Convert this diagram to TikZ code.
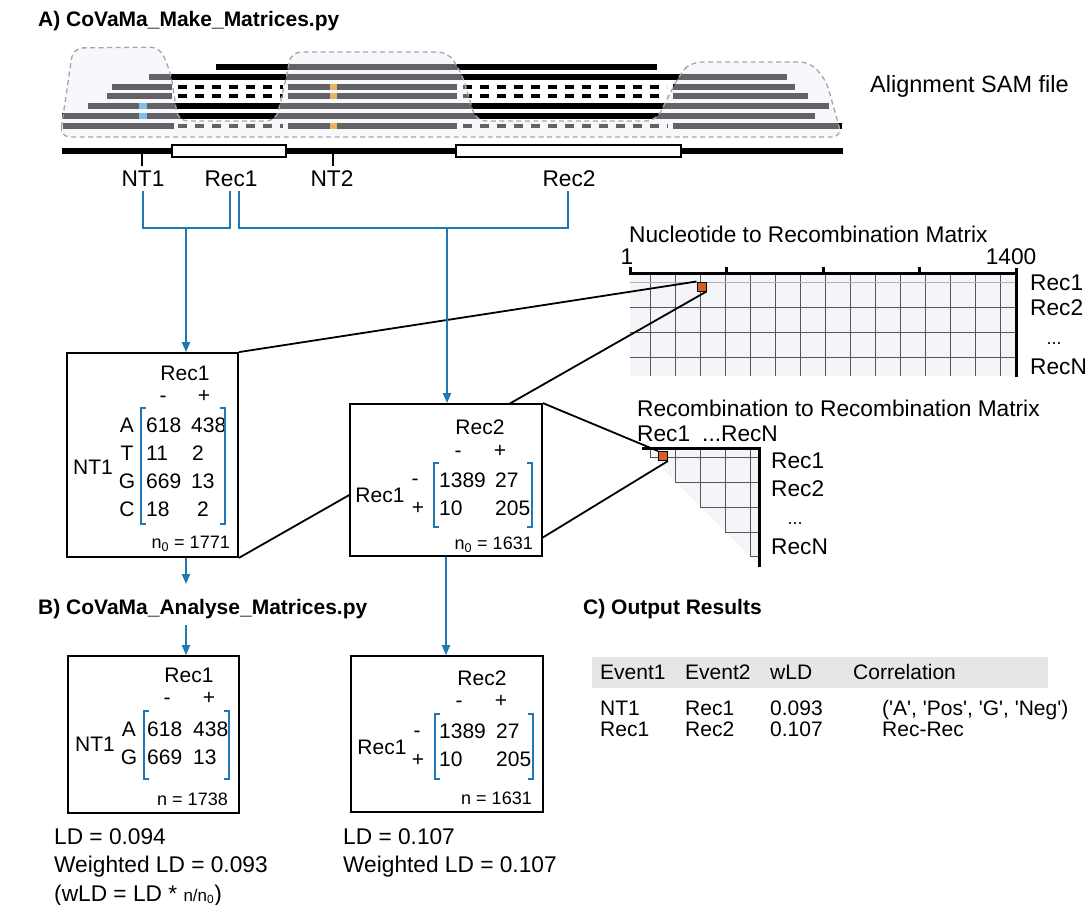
\documentclass[tikz,border=0pt]{standalone}
\usepackage{fontspec}
\setmainfont{Liberation Sans}
\usetikzlibrary{arrows.meta,calc}
\definecolor{cblue}{RGB}{31,119,180}
\definecolor{corange}{RGB}{214,96,34}
\definecolor{ovl}{RGB}{236,238,246}
\definecolor{gridfill}{RGB}{244,245,249}
\definecolor{mblue}{RGB}{130,190,232}
\definecolor{morange}{RGB}{234,180,92}
\definecolor{hdr}{RGB}{230,230,230}
\definecolor{gridc}{RGB}{85,85,85}
\begin{document}
\begin{tikzpicture}[x=1pt,y=-1pt,
  t22/.style={font=\fontsize{22.7}{26}\selectfont, inner sep=0pt},
  t21/.style={font=\fontsize{21}{25}\selectfont, inner sep=0pt},
  t20/.style={font=\fontsize{21}{25}\selectfont, inner sep=0pt, anchor=base west},
  t18/.style={font=\fontsize{18}{22}\selectfont, inner sep=0pt},
  ttl/.style={font=\fontsize{21}{25}\selectfont\bfseries, inner sep=0pt, anchor=base west},
  mbox/.style={draw, line width=1.8pt, fill=white, inner sep=0pt},
  blueline/.style={cblue, line width=2pt},
  barr/.style={cblue, line width=2pt, -{Triangle[length=10pt,width=8pt]}},
  zline/.style={line width=1.8pt},
  brk/.style={cblue, line width=2.5pt},
  readbar/.style={line width=6pt},
  readdash/.style={line width=4pt, dash pattern=on 9pt off 8pt},
  gline/.style={gridc, line width=0.9pt},
  sqr/.style={draw, fill=corange, line width=1pt, minimum size=9pt, inner sep=0pt},
  recbox/.style={draw, line width=2.5pt, fill=white, minimum height=12pt, inner sep=0pt}
]
\useasboundingbox (0,0) rectangle (1085,905);

% ---------- Titles ----------
\node[ttl] (tA) at (38,26) {A) CoVaMa\_Make\_Matrices.py};
\node[ttl] (tB) at (38,614) {B) CoVaMa\_Analyse\_Matrices.py};
\node[ttl] (tC) at (583,614) {C) Output Results};

% ---------- Reads ----------
\foreach \yy/\a/\b in {67/216/657, 76.8/149/787, 106.2/88/829, 116/62/815}
  \draw[readbar] (\a,\yy) -- (\b,\yy);
\foreach \yy/\a/\b in {86.6/112/795, 96.4/107/808}{
  \draw[readbar] (\a,\yy) -- (172,\yy);
  \draw[readdash] (178,\yy) -- (283,\yy);
  \draw[readbar] (288,\yy) -- (457,\yy);
  \draw[readdash] (463,\yy) -- (667,\yy);
  \draw[readbar] (673,\yy) -- (\b,\yy);
}
\draw[readbar] (63,125.8) -- (174,125.8);
\draw[readdash] (178,125.8) -- (283,125.8);
\draw[readbar] (288,125.8) -- (457,125.8);
\draw[readdash] (463,125.8) -- (668,125.8);
\draw[readbar] (673,125.8) -- (842,125.8);

% ---------- Overlay ----------
\path[fill=ovl, fill opacity=0.42, rounded corners=10pt]
  (60,137) -- (73,48) -- (160,47) -- (171,74) -- (178,121) -- (276,121) -- (287,74)
  -- (291,52) -- (448,52) -- (462,74) -- (476,121) -- (656,121) -- (680,74)
  -- (691,62) -- (810,62) -- (826,80) -- (842,137) -- cycle;
\draw[gray!70, line width=1.3pt, dash pattern=on 5pt off 3.5pt, rounded corners=10pt]
  (60,137) -- (73,48) -- (160,47) -- (171,74) -- (178,121) -- (276,121) -- (287,74)
  -- (291,52) -- (448,52) -- (462,74) -- (476,121) -- (656,121) -- (680,74)
  -- (691,62) -- (810,62) -- (826,80) -- (842,137) -- cycle;

% marks
\fill[mblue] (139,103.2) rectangle (147,109.2);
\fill[mblue] (139,113) rectangle (147,119);
\fill[morange] (330,83.6) rectangle (337,89.6);
\fill[morange] (330,93.4) rectangle (337,99.4);
\fill[morange] (330,122.8) rectangle (337,128.8);

\node[t22, anchor=base west, font=\fontsize{23.5}{27}\selectfont] (sam) at (870,92) {Alignment SAM file};

% ---------- Genome axis ----------
\draw[line width=6pt] (62,151) -- (843,151);
\node[recbox, minimum width=114pt] (r1box) at (229,151) {};
\node[recbox, minimum width=225pt] (r2box) at (568.5,151) {};
\coordinate (tk1) at (142,151);
\coordinate (tk2) at (333,151);
\draw[line width=2pt] (tk1) -- ++(0,15);
\draw[line width=2pt] (tk2) -- ++(0,15);

\node[t22, anchor=base] (lNT1) at (143,186) {NT1};
\node[t22, anchor=base] (lRec1) at (231,186) {Rec1};
\node[t22, anchor=base] (lNT2) at (332,186) {NT2};
\node[t22, anchor=base] (lRec2) at (569,186) {Rec2};

% ---------- Nucleotide to Recombination matrix ----------
\node[t22, anchor=base west] (nrt) at (629,242) {Nucleotide to Recombination Matrix};
\node[t22, anchor=base] (nr1) at (627,264) {1};
\node[t22, anchor=base] (nr1400) at (1011,264) {1400};
\fill[gridfill] (630,273) rectangle (1016,376);
\foreach \x in {650,675,...,1000} \draw[gline] (\x,273) -- (\x,376);
\draw[gray!60, line width=0.9pt] (630,282) -- (1016,282);
\foreach \yy in {307,332,357} \draw[gline] (630,\yy) -- (1016,\yy);
\draw[line width=3pt] (630,267) -- (630,273) -- (1016,273);
\foreach \x in {726,823,919} \draw[line width=3pt] (\x,267) -- (\x,273);
\draw[line width=3pt] (1016,268) -- (1016,377);
\node[t22, anchor=base west] (nrr1) at (1030,290) {Rec1};
\node[t22, anchor=base west] (nrr2) at (1030,315) {Rec2};
\node[t18, anchor=base] (nrr3) at (1054,344) {...};
\node[t22, anchor=base west] (nrr4) at (1030,374) {RecN};
\node[sqr] (nrsq) at (701.5,286.5) {};

% ---------- Recombination to Recombination matrix ----------
\node[t22, anchor=base west] (rrt) at (637,416) {Recombination to Recombination Matrix};
\node[t22, anchor=base west] (rrc1) at (637,441) {Rec1};
\node[t22, anchor=base west] (rrc2) at (702,441) {...RecN};
\fill[gridfill] (642,448) -- (759,448) -- (759,565) -- cycle;
\foreach \x/\yy in {650/457,675/482,700/507,725/532,750/556}
  \draw[gline] (\x,448) -- (\x,\yy) -- (759,\yy);
\draw[line width=3pt] (642,448) -- (759,448) -- (759,567);
\node[t22, anchor=base west] (rrr1) at (771,468) {Rec1};
\node[t22, anchor=base west] (rrr2) at (771,496) {Rec2};
\node[t18, anchor=base] (rrr3) at (795,524) {...};
\node[t22, anchor=base west] (rrr4) at (771,554) {RecN};
\node[sqr] (rrsq) at (663,456) {};

% ---------- Box 1 ----------
\node[mbox, minimum width=171pt, minimum height=204pt] (box1) at (152.5,455) {};
\node[t21, anchor=base] (b1h) at (185,380) {Rec1};
\node[t21, anchor=base] (b1m) at (163,402.5) {-};
\node[t21, anchor=base] (b1p) at (204,402.5) {+};
\foreach \l/\a/\b/\yy/\xb [count=\i] in {A/618/438/432.5/191, T/11/2/460.5/192, G/669/13/488.5/191, C/18/2/516.5/197}{
  \node[t21, anchor=base] (b1l\i) at (127,\yy) {\l};
  \node[t21, anchor=base west] (b1a\i) at (146,\yy) {\a};
  \node[t21, anchor=base west] (b1b\i) at (\xb,\yy) {\b};
}
\node[t21, anchor=base] (b1nt) at (93,474.5) {NT1};
\draw[brk] (146,408) -- (141,408) -- (141,524) -- (146,524);
\draw[brk] (220,408) -- (225,408) -- (225,524) -- (220,524);
\node[t18, anchor=base east] (b1n) at (230,548.5) {n\textsubscript{0} = 1771};

% zoom lines from box 1
\draw[zline] (box1.north east) -- (nrsq.north west);
\draw[zline] (box1.south east) -- (nrsq.south east);

% ---------- Box 2 ----------
\node[mbox, minimum width=192pt, minimum height=152pt] (box2) at (446,480) {};
\node[t21, anchor=base] (b2h) at (480,434.5) {Rec2};
\node[t21, anchor=base] (b2m) at (458,457.5) {-};
\node[t21, anchor=base] (b2p) at (500,457.5) {+};
\node[t21, anchor=base west] (b2a1) at (439,487.5) {1389};
\node[t21, anchor=base west] (b2b1) at (495,487.5) {27};
\node[t21, anchor=base west] (b2a2) at (439,515.5) {10};
\node[t21, anchor=base west] (b2b2) at (495,515.5) {205};
\node[t21, anchor=base] (b2r) at (380,502.5) {Rec1};
\node[t21, anchor=base] (b2rm) at (415,485.7) {-};
\node[t21, anchor=base] (b2rp) at (418,514.4) {+};
\draw[brk] (439,463) -- (434,463) -- (434,527) -- (439,527);
\draw[brk] (527,463) -- (532,463) -- (532,527) -- (527,527);
\node[t18, anchor=base east] (b2n) at (533,549.5) {n\textsubscript{0} = 1631};

\coordinate (b2e) at (542,538);
\draw[zline] (box2.north east) -- (rrsq.north west);
\draw[zline] (b2e) -- (rrsq.south east);

% ---------- Blue connectors ----------
\coordinate (c1a) at (143,191);
\coordinate (c1b) at (230,191);
\coordinate (j1) at (186,228);
\coordinate (c2a) at (239,191);
\coordinate (c2b) at (568,191);
\coordinate (j2) at (447,228);
\draw[blueline] (c1a) |- (j1) -| (c1b);
\draw[blueline] (c2a) |- (j2) -| (c2b);
\draw[barr] (j1) -- (j1 |- box1.north);
\draw[barr] (j2) -- (j2 |- box2.north);

% ---------- Box 3 ----------
\node[mbox, minimum width=171pt, minimum height=157pt] (box3) at (153.5,734.5) {};
\node[t21, anchor=base] (b3h) at (189,682.5) {Rec1};
\node[t21, anchor=base] (b3m) at (167,704.5) {-};
\node[t21, anchor=base] (b3p) at (209,704.5) {+};
\node[t21, anchor=base] (b3l1) at (129,736.5) {A};
\node[t21, anchor=base west] (b3a1) at (147,736.5) {618};
\node[t21, anchor=base west] (b3b1) at (193,736.5) {438};
\node[t21, anchor=base] (b3l2) at (129,764.5) {G};
\node[t21, anchor=base west] (b3a2) at (147,764.5) {669};
\node[t21, anchor=base west] (b3b2) at (193,764.5) {13};
\node[t21, anchor=base] (b3nt) at (95,751.5) {NT1};
\draw[brk] (149,711) -- (144,711) -- (144,779) -- (149,779);
\draw[brk] (224,711) -- (229,711) -- (229,779) -- (224,779);
\node[t18, anchor=base east] (b3n) at (228,805.4) {n = 1738};

% ---------- Box 4 ----------
\node[mbox, minimum width=192pt, minimum height=156pt] (box4) at (447,734) {};
\node[t21, anchor=base] (b4h) at (482,685.5) {Rec2};
\node[t21, anchor=base] (b4m) at (459,707.5) {-};
\node[t21, anchor=base] (b4p) at (501,707.5) {+};
\node[t21, anchor=base west] (b4a1) at (439,738.5) {1389};
\node[t21, anchor=base west] (b4b1) at (496,738.5) {27};
\node[t21, anchor=base west] (b4a2) at (439,766.5) {10};
\node[t21, anchor=base west] (b4b2) at (496,766.5) {205};
\node[t21, anchor=base] (b4r) at (382,754.5) {Rec1};
\node[t21, anchor=base] (b4rm) at (417,737.7) {-};
\node[t21, anchor=base] (b4rp) at (418,766) {+};
\draw[brk] (440,714) -- (435,714) -- (435,779) -- (440,779);
\draw[brk] (528,714) -- (533,714) -- (533,779) -- (528,779);
\node[t18, anchor=base east] (b4n) at (532,804.4) {n = 1631};

% ---------- Arrows between stages ----------
\coordinate (a1e) at (186,584);
\coordinate (a2s) at (186,625);
\draw[barr] (j1 |- box1.south) -- (a1e);
\draw[barr] (a2s) -- (a2s |- box3.north);
\draw[barr] (box2.south) -- (box2.south |- box4.north);

% ---------- LD texts ----------
\node[t22, anchor=base west] (ld1) at (54,844) {LD = 0.094};
\node[t22, anchor=base west] (wld1) at (54,872) {Weighted LD = 0.093};
\node[t22, anchor=base west] (form) at (54,901) {(wLD = LD * {\fontsize{17}{20}\selectfont n/n\textsubscript{0}})};
\node[t22, anchor=base west] (ld2) at (343,844) {LD = 0.107};
\node[t22, anchor=base west] (wld2) at (343,872) {Weighted LD = 0.107};

% ---------- Output table ----------
\fill[hdr] (592,657) rectangle (1048,688);
\node[t20] (h1) at (600,679) {Event1};
\node[t20] (h2) at (685,679) {Event2};
\node[t20] (h3) at (770,679) {wLD};
\node[t20] (h4) at (853,679) {Correlation};
\node[t20] (r11) at (600,715) {NT1};
\node[t20] (r12) at (685,715) {Rec1};
\node[t20] (r13) at (770,715) {0.093};
\node[t20] (r14) at (882,715) {(\textquotesingle A\textquotesingle, \textquotesingle Pos\textquotesingle, \textquotesingle G\textquotesingle, \textquotesingle Neg\textquotesingle)};
\node[t20] (r21) at (600,736) {Rec1};
\node[t20] (r22) at (685,736) {Rec2};
\node[t20] (r23) at (770,736) {0.107};
\node[t20] (r24) at (882,736) {Rec-Rec};
\end{tikzpicture}
\end{document}
